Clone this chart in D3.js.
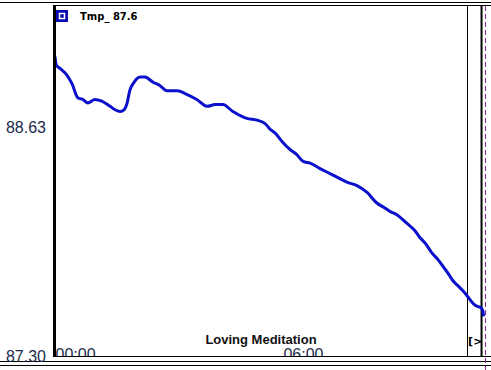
<!DOCTYPE html>
<html>
<head>
<meta charset="utf-8">
<script src="https://cdn.jsdelivr.net/npm/d3@7"></script>
<style>
  body { margin: 0; background: #fff; }
  svg { display: block; }
  .tick text { font-family: "Liberation Sans", Arial, sans-serif; font-size: 16px; fill: #1c2b4a; }
</style>
</head>
<body>
<div id="chart"></div>
<script>
// minutes since 00:00 and temperature
var minutes = [0, 2, 8, 19, 27, 36, 44, 52, 63, 74, 87, 95, 103, 109, 114, 118, 125, 129, 135, 142, 155,
    166, 177, 193, 208, 224, 240, 253, 265, 281, 303, 319, 332, 339, 349, 360, 371, 382, 392, 403, 418,
    434, 450, 461, 477, 493, 508, 521, 529, 540, 556, 568, 576, 586, 595, 605, 613, 621, 628, 636, 644,
    651, 655, 662, 666, 673, 676, 677];
var temps = [89.04, 88.99, 88.97, 88.93, 88.88, 88.80, 88.79, 88.77, 88.79, 88.78, 88.75, 88.73, 88.72, 88.73, 88.77, 88.84, 88.89, 88.91, 88.92, 88.92, 88.89,
    88.87, 88.84, 88.84, 88.82, 88.79, 88.75, 88.76, 88.76, 88.72, 88.68, 88.67, 88.65, 88.62, 88.59, 88.54, 88.50, 88.47, 88.43, 88.42, 88.39,
    88.36, 88.33, 88.31, 88.29, 88.25, 88.19, 88.16, 88.14, 88.12, 88.07, 88.03, 87.99, 87.95, 87.90, 87.86, 87.82, 87.78, 87.74, 87.71, 87.68,
    87.65, 87.63, 87.60, 87.59, 87.58, 87.56, 87.53];

var yTicks = [87.30, 88.63];
var xTicks = [0, 360];
var seriesName = "Tmp_";
var lastValue = 87.6;
var eventLabel = "Loving Meditation";
// vertical markers (minutes): range end, now cursor, dashed limit
var markerEnd = 651, markerNow = 673, markerLimit = 680;

var width = 491, height = 370;
var margin = {top: 6, right: 3, bottom: 14, left: 55};

var x = d3.scaleLinear()
    .domain([0, 684])
    .range([margin.left, width - margin.right]);

var y = d3.scaleLinear()
    .domain([87.30, 88.63])
    .range([height - margin.bottom, 127]);

var data = minutes.map(function(m, i) { return {m: m, v: temps[i]}; });

var svg = d3.select("#chart").append("svg")
    .attr("width", width)
    .attr("height", height);

svg.append("defs").append("clipPath")
    .attr("id", "xclip")
    .append("rect")
    .attr("x", 0).attr("y", 0)
    .attr("width", width).attr("height", y(87.30));

// frame lines
svg.append("line").attr("x1", 0).attr("x2", width).attr("y1", 2.5).attr("y2", 2.5).attr("stroke", "#000");
svg.append("line").attr("x1", 53).attr("x2", width).attr("y1", 5.5).attr("y2", 5.5).attr("stroke", "#000");
svg.append("line").attr("x1", 53).attr("x2", width).attr("y1", y(87.30) + 0.5).attr("y2", y(87.30) + 0.5).attr("stroke", "#000");
svg.append("line").attr("x1", 0).attr("x2", width).attr("y1", 361.5).attr("y2", 361.5).attr("stroke", "#000");
svg.append("line").attr("x1", 0).attr("x2", width).attr("y1", 365.5).attr("y2", 365.5).attr("stroke", "#000");

// x tick labels, cut off by the bottom line like the original
var xAxis = d3.axisBottom(x)
    .tickValues(xTicks)
    .tickSize(0)
    .tickFormat(function(d) { return d3.format("02d")(Math.floor(d / 60)) + ":" + d3.format("02d")(d % 60); });

var gx = svg.append("g")
    .attr("clip-path", "url(#xclip)")
    .append("g")
    .attr("transform", "translate(0," + (y(87.30) - 7) + ")")
    .call(xAxis);
gx.select(".domain").remove();
gx.selectAll("text").attr("text-anchor", "start").attr("dy", "0.71em").attr("y", 0);

// y tick labels
var yAxis = d3.axisLeft(y)
    .tickValues(yTicks)
    .tickSize(0)
    .tickPadding(9)
    .tickFormat(d3.format(".2f"));

var gy = svg.append("g")
    .attr("transform", "translate(" + margin.left + ",0)")
    .call(yAxis);
gy.select(".domain").remove();

// markers on the right
svg.append("line")
    .attr("x1", Math.round(x(markerEnd)) + 0.5).attr("x2", Math.round(x(markerEnd)) + 0.5)
    .attr("y1", 6).attr("y2", y(87.30))
    .attr("stroke", "#000");
svg.append("line")
    .attr("x1", x(markerNow) + 0.5).attr("x2", x(markerNow) + 0.5)
    .attr("y1", 6).attr("y2", y(87.30))
    .attr("stroke", "#000").attr("stroke-width", 2);
svg.append("line")
    .attr("x1", Math.round(x(markerLimit)) + 0.5).attr("x2", Math.round(x(markerLimit)) + 0.5)
    .attr("y1", 6).attr("y2", height)
    .attr("stroke", "#8a2a8a").attr("stroke-dasharray", "5,3");

svg.append("text")
    .attr("x", x(markerEnd) + 1)
    .attr("y", 345)
    .attr("font-family", "DejaVu Sans, sans-serif")
    .attr("font-weight", "bold")
    .attr("font-size", 11)
    .attr("fill", "#000")
    .text("[>");

// event label
svg.append("text")
    .attr("x", 261)
    .attr("y", 344)
    .attr("text-anchor", "middle")
    .attr("font-family", "Liberation Sans, Arial, sans-serif")
    .attr("font-weight", "bold")
    .attr("font-size", 13)
    .attr("fill", "#111")
    .text(eventLabel);

// the trace
var line = d3.line()
    .curve(d3.curveMonotoneX)
    .x(function(d) { return x(d.m); })
    .y(function(d) { return y(d.v); });

svg.append("path")
    .datum(data)
    .attr("fill", "none")
    .attr("stroke", "#0a10cc")
    .attr("stroke-width", 3)
    .attr("stroke-linejoin", "round")
    .attr("d", line);

// left axis bar
svg.append("rect")
    .attr("x", 53).attr("y", 6)
    .attr("width", 3).attr("height", y(87.30) - 6)
    .attr("fill", "#000");

// legend
var legend = svg.append("g").attr("transform", "translate(56,10)");
legend.append("rect").attr("width", 12).attr("height", 12).attr("fill", "#0a0ab4");
legend.append("rect").attr("x", 3.5).attr("y", 3.5).attr("width", 5).attr("height", 5)
    .attr("fill", "none").attr("stroke", "#fff").attr("stroke-width", 1.5);
legend.append("text")
    .attr("x", 24).attr("y", 10)
    .attr("font-family", "DejaVu Sans, sans-serif")
    .attr("font-weight", "bold")
    .attr("font-size", 10)
    .attr("fill", "#000")
    .text(seriesName + " " + lastValue);
</script>
</body>
</html>
